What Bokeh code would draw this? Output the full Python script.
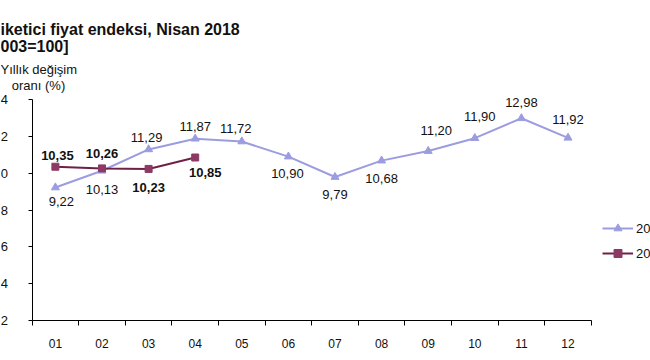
from bokeh.plotting import figure
from bokeh.models import (ColumnDataSource, Range1d, FixedTicker, Legend, LegendItem)
from bokeh.core.properties import value
from bokeh.embed import file_html
from bokeh.resources import INLINE

# ---- data ----
months = ["01", "02", "03", "04", "05", "06", "07", "08", "09", "10", "11", "12"]
series_2017 = [9.22, 10.13, 11.29, 11.87, 11.72, 10.90, 9.79, 10.68, 11.20, 11.90, 12.98, 11.92]
series_2018 = [10.35, 10.26, 10.23, 10.85]
labels_2017 = ["9,22", "10,13", "11,29", "11,87", "11,72", "10,90", "9,79", "10,68", "11,20", "11,90", "12,98", "11,92"]
labels_2018 = ["10,35", "10,26", "10,23", "10,85"]
y_ticks = [2, 4, 6, 8, 10, 12, 14]
y_tick_labels = ["2", "4", "6", "8", "0", "2", "4"]   # as visible (cropped) in the reference
legend_names = ["2017", "2018"]
title_line1 = "iketici fiyat endeksi, Nisan 2018"
title_line2 = "003=100]"
ytitle_line1 = "Yıllık değişim"
ytitle_line2 = "oranı (%)"

# ---- label placement (styling, screen px) ----
dx_2017 = [6, 0, -2, 0, -6, -1, 0, 0, 8, 5, 0, 0]
dy_2017 = [14, 19, -12, -12, -13, 17, 17, 18, -21, -22, -16, -18]
dx_2018 = [2, 0, 0, 10]
dy_2018 = [-11, -15, 19, 15]

FONT = "Liberation Sans"
C17 = "#9c9ce0"
C18 = "#6e2146"
C18M = "#8c3a64"
TXT = "#111111"

W, H = 650, 360
AX_X = 31.6          # pixel position of the left edge of the category axis
PX_PER_CAT = 46.6
Y_TOP_PX, Y_BOT_PX = 99.0, 320.0   # pixel rows of y=14 and y=2
PX_PER_Y = (Y_BOT_PX - Y_TOP_PX) / 12.0


def dx_data(c):
    return 0.5 + (c - AX_X) / PX_PER_CAT


def dy_data(r):
    return 14 - (r - Y_TOP_PX) / PX_PER_Y


p = figure(width=W, height=H, output_backend="svg", toolbar_location=None,
           x_range=Range1d(dx_data(0), dx_data(W)),
           y_range=Range1d(dy_data(H), dy_data(0)),
           min_border=0, min_border_left=0, min_border_right=0,
           min_border_top=0, min_border_bottom=0)
p.outline_line_color = None
p.grid.visible = False
p.background_fill_color = "white"
p.border_fill_color = "white"

xs17 = list(range(1, len(series_2017) + 1))
xs18 = list(range(1, len(series_2018) + 1))
src17 = ColumnDataSource(dict(x=xs17, y=series_2017, t=labels_2017, dx=dx_2017, dy=dy_2017))
src18 = ColumnDataSource(dict(x=xs18, y=series_2018, t=labels_2018, dx=dx_2018, dy=dy_2018))

l17 = p.line("x", "y", source=src17, line_color=C17, line_width=2)
m17 = p.scatter("x", "y", source=src17, marker="triangle", size=8,
                fill_color=C17, line_color=C17)
l18 = p.line("x", "y", source=src18, line_color=C18, line_width=2)
m18 = p.scatter("x", "y", source=src18, marker="square", size=7,
                fill_color=C18M, line_color=C18M)

p.text("x", "y", text="t", source=src17, x_offset="dx", y_offset="dy",
       text_align="center", text_baseline="middle", text_font=value(FONT),
       text_font_size="13px", text_color=TXT)
p.text("x", "y", text="t", source=src18, x_offset="dx", y_offset="dy",
       text_align="center", text_baseline="middle", text_font=value(FONT),
       text_font_size="13px", text_font_style="bold", text_color=TXT)

# x axis (drawn at y = 2 inside the canvas)
xa = p.xaxis[0]
xa.fixed_location = 2
xa.ticker = FixedTicker(ticks=xs17, minor_ticks=[i + 0.5 for i in range(0, 13)])
xa.major_label_overrides = {i + 1: m for i, m in enumerate(months)}
xa.bounds = (0.5, 12.5)
xa.major_tick_out = 0
xa.major_tick_in = 0
xa.minor_tick_out = 5
xa.minor_tick_in = 0
xa.minor_tick_line_color = "black"
xa.axis_line_color = "black"
xa.major_label_standoff = 13
xa.major_label_text_font = FONT
xa.major_label_text_font_size = "12px"
xa.major_label_text_color = TXT

# y axis (drawn at x = 0.5)
ya = p.yaxis[0]
ya.fixed_location = 0.5
ya.ticker = FixedTicker(ticks=y_ticks, minor_ticks=[])
ya.major_label_overrides = {v: s for v, s in zip(y_ticks, y_tick_labels)}
ya.bounds = (2, 14)
ya.major_tick_out = 4
ya.major_tick_in = 0
ya.major_tick_line_color = "black"
ya.axis_line_color = "black"
ya.major_label_standoff = 20
ya.major_label_text_font = FONT
ya.major_label_text_font_size = "13px"
ya.major_label_text_color = TXT

# legend (partly beyond the right edge, as in the reference)
legend = Legend(items=[LegendItem(label=legend_names[0], renderers=[l17, m17]),
                       LegendItem(label=legend_names[1], renderers=[l18, m18])],
                location=(602, 97), glyph_width=31, glyph_height=20,
                label_height=20, spacing=5, padding=0, margin=0,
                label_standoff=3, label_text_font=FONT,
                label_text_font_size="13px", label_text_color=TXT,
                border_line_color=None, background_fill_alpha=0)
p.add_layout(legend, "center")

# header texts (positions = vertical centres)
for txt, x, y, size, style, align in [
    (title_line1, 0, 29, "16px", "bold", "left"),
    (title_line2, 0, 46, "16px", "bold", "left"),
    (ytitle_line1, 0, 69, "13px", "normal", "left"),
    (ytitle_line2, 38, 85, "13px", "normal", "center"),
]:
    p.text(x=[dx_data(x)], y=[dy_data(y)], text=[txt], text_font=value(FONT),
           text_font_size=size, text_font_style=style, text_align=align,
           text_baseline="middle", text_color=TXT)

open("out.html", "w").write(file_html(p, INLINE))
